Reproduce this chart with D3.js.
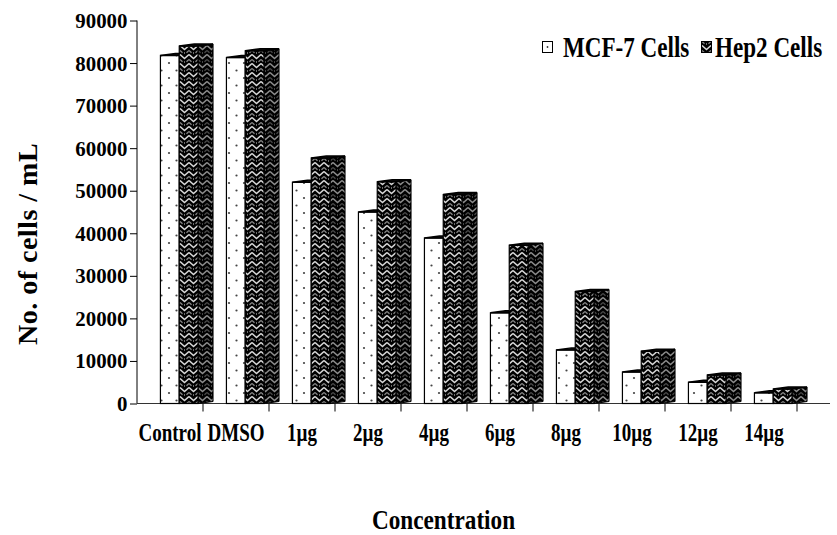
<!DOCTYPE html>
<html>
<head>
<meta charset="utf-8">
<script src="https://cdn.jsdelivr.net/npm/d3@7"></script>
<style>
  body { margin: 0; background: #fff; }
  text { font-family: "Liberation Serif", "Times New Roman", serif; font-weight: bold; fill: #000; }
</style>
</head>
<body>
<div id="chart"></div>
<script>
// data
const categories = ["Control", "DMSO", "1µg", "2µg", "4µg", "6µg", "8µg", "10µg", "12µg", "14µg"];
const seriesNames = ["MCF-7 Cells", "Hep2 Cells"];
const mcfValues = [81800, 81300, 52000, 45000, 38900, 21300, 12600, 7400, 5000, 2500];
const hepValues = [84000, 82900, 57700, 52100, 49100, 37200, 26300, 12300, 6700, 3400];
const yTicks = [0, 10000, 20000, 30000, 40000, 50000, 60000, 70000, 80000, 90000];

const width = 837, height = 535;
const depth = 15, rise = 2; // fake 3d offset of the columns

const svg = d3.select("#chart").append("svg")
  .attr("width", width)
  .attr("height", height);

// patterns
const defs = svg.append("defs");

const dots = defs.append("pattern")
  .attr("id", "dots")
  .attr("patternUnits", "userSpaceOnUse")
  .attr("width", 15).attr("height", 15);
dots.append("rect").attr("width", 15).attr("height", 15).attr("fill", "#fff");
dots.append("circle").attr("cx", 4).attr("cy", 3).attr("r", 1.1).attr("fill", "#444");
dots.append("circle").attr("cx", 11.5).attr("cy", 10.5).attr("r", 1.1).attr("fill", "#444");

// herringbone-like weave: black ground, light and grey chevrons
function weave(id, light, dark) {
  const p = defs.append("pattern")
    .attr("id", id)
    .attr("patternUnits", "userSpaceOnUse")
    .attr("width", 9).attr("height", 9);
  p.append("rect").attr("width", 9).attr("height", 9).attr("fill", "#000");
  p.append("path").attr("d", "M0,0.5 L4.5,4.5 L9,0.5")
    .attr("fill", "none").attr("stroke", light).attr("stroke-width", 1.5);
  p.append("path").attr("d", "M0,5.5 L2.5,7.7 M6.5,7.7 L9,5.5")
    .attr("fill", "none").attr("stroke", dark).attr("stroke-width", 1.3);
  p.append("rect").attr("x", 4).attr("y", 7.5).attr("width", 1).attr("height", 1).attr("fill", light);
}
weave("hepFront", "#d8d8d8", "#8a8a8a");
weave("hepSide", "#8c8c8c", "#4a4a4a");

// scales
const x = d3.scaleBand()
  .domain(categories)
  .range([137, 797])
  .paddingInner(0)
  .paddingOuter(0);

const bw = x.bandwidth();
const x1 = d3.scaleBand()
  .domain(seriesNames)
  .range([bw * 0.355, bw * 0.355 + 2 * bw * 0.285]);

const y = d3.scaleLinear()
  .domain([0, 90000])
  .range([403.5, 20.5]);

// y axis
const yAxis = svg.append("g")
  .attr("transform", "translate(137,0)")
  .call(d3.axisLeft(y).tickValues(yTicks).tickSize(7).tickPadding(3).tickFormat(d3.format("d")));
yAxis.select(".domain").attr("stroke", "#000").attr("d", `M0,${y(90000)}V${y(0)}`);
yAxis.selectAll(".tick line").attr("stroke", "#000");
yAxis.selectAll(".tick text")
  .attr("font-size", 22)
  .attr("font-family", "Liberation Serif")
  .attr("font-weight", "bold")
  .attr("transform", "scale(0.95,1)");

// x axis line + boundary ticks
svg.append("line")
  .attr("x1", 137).attr("x2", 830)
  .attr("y1", y(0)).attr("y2", y(0))
  .attr("stroke", "#333");

svg.append("g").selectAll("line")
  .data(categories)
  .join("line")
  .attr("x1", d => x(d) + bw).attr("x2", d => x(d) + bw)
  .attr("y1", y(0)).attr("y2", y(0) + 8)
  .attr("stroke", "#000");

// category labels
const xAxis = svg.append("g")
  .attr("transform", `translate(0,${y(0)})`)
  .call(d3.axisBottom(x).tickSize(0));
xAxis.select(".domain").remove();
xAxis.selectAll(".tick text")
  .attr("y", 441 - y(0))
  .attr("dy", null)
  .attr("font-size", 25)
  .attr("font-family", "Liberation Serif")
  .attr("font-weight", "bold")
  .attr("transform", "scale(0.76,1)");

// bars
function drawBar(g, bx, w, v, frontFill, sideFill) {
  const y0 = y(0), yv = y(v);
  g.append("polygon")
    .attr("points", [[bx + w, yv], [bx + w + depth, yv - rise], [bx + w + depth, y0 - rise], [bx + w, y0]].join(" "))
    .attr("fill", sideFill).attr("stroke", "#000").attr("stroke-width", 1);
  g.append("rect")
    .attr("x", bx).attr("y", yv)
    .attr("width", w).attr("height", y0 - yv)
    .attr("fill", frontFill).attr("stroke", "#000").attr("stroke-width", 1.2);
  g.append("polygon")
    .attr("points", [[bx, yv], [bx + depth, yv - rise], [bx + w + depth, yv - rise], [bx + w, yv]].join(" "))
    .attr("fill", "#111").attr("stroke", "#000").attr("stroke-width", 1.5);
}

const bars = svg.append("g");
categories.forEach((c, i) => {
  const g = bars.append("g");
  drawBar(g, x(c) + x1(seriesNames[0]), x1.bandwidth(), mcfValues[i], "url(#dots)", "#ccc");
  drawBar(g, x(c) + x1(seriesNames[1]), x1.bandwidth(), hepValues[i], "url(#hepFront)", "url(#hepSide)");
});

// legend
const legend = svg.append("g");
legend.append("rect")
  .attr("x", 542.5).attr("y", 41.5).attr("width", 10).attr("height", 11)
  .attr("fill", "#fff").attr("stroke", "#000");
legend.append("circle").attr("cx", 547.5).attr("cy", 47).attr("r", 0.9).attr("fill", "#333");
legend.append("text")
  .attr("transform", "translate(563,57) scale(0.77,1)")
  .attr("font-size", 30)
  .text(seriesNames[0]);
legend.append("rect")
  .attr("x", 701.5).attr("y", 41.5).attr("width", 10).attr("height", 11)
  .attr("fill", "url(#hepFront)").attr("stroke", "#000");
legend.append("text")
  .attr("transform", "translate(715,57) scale(0.77,1)")
  .attr("font-size", 30)
  .text(seriesNames[1]);

// axis titles
svg.append("text")
  .attr("transform", "translate(37,244) rotate(-90)")
  .attr("text-anchor", "middle")
  .attr("font-size", 28)
  .attr("letter-spacing", 0.5)
  .text("No. of cells / mL");

svg.append("text")
  .attr("transform", "translate(443.5,529) scale(0.83,1)")
  .attr("text-anchor", "middle")
  .attr("font-size", 28)
  .text("Concentration");
</script>
</body>
</html>
